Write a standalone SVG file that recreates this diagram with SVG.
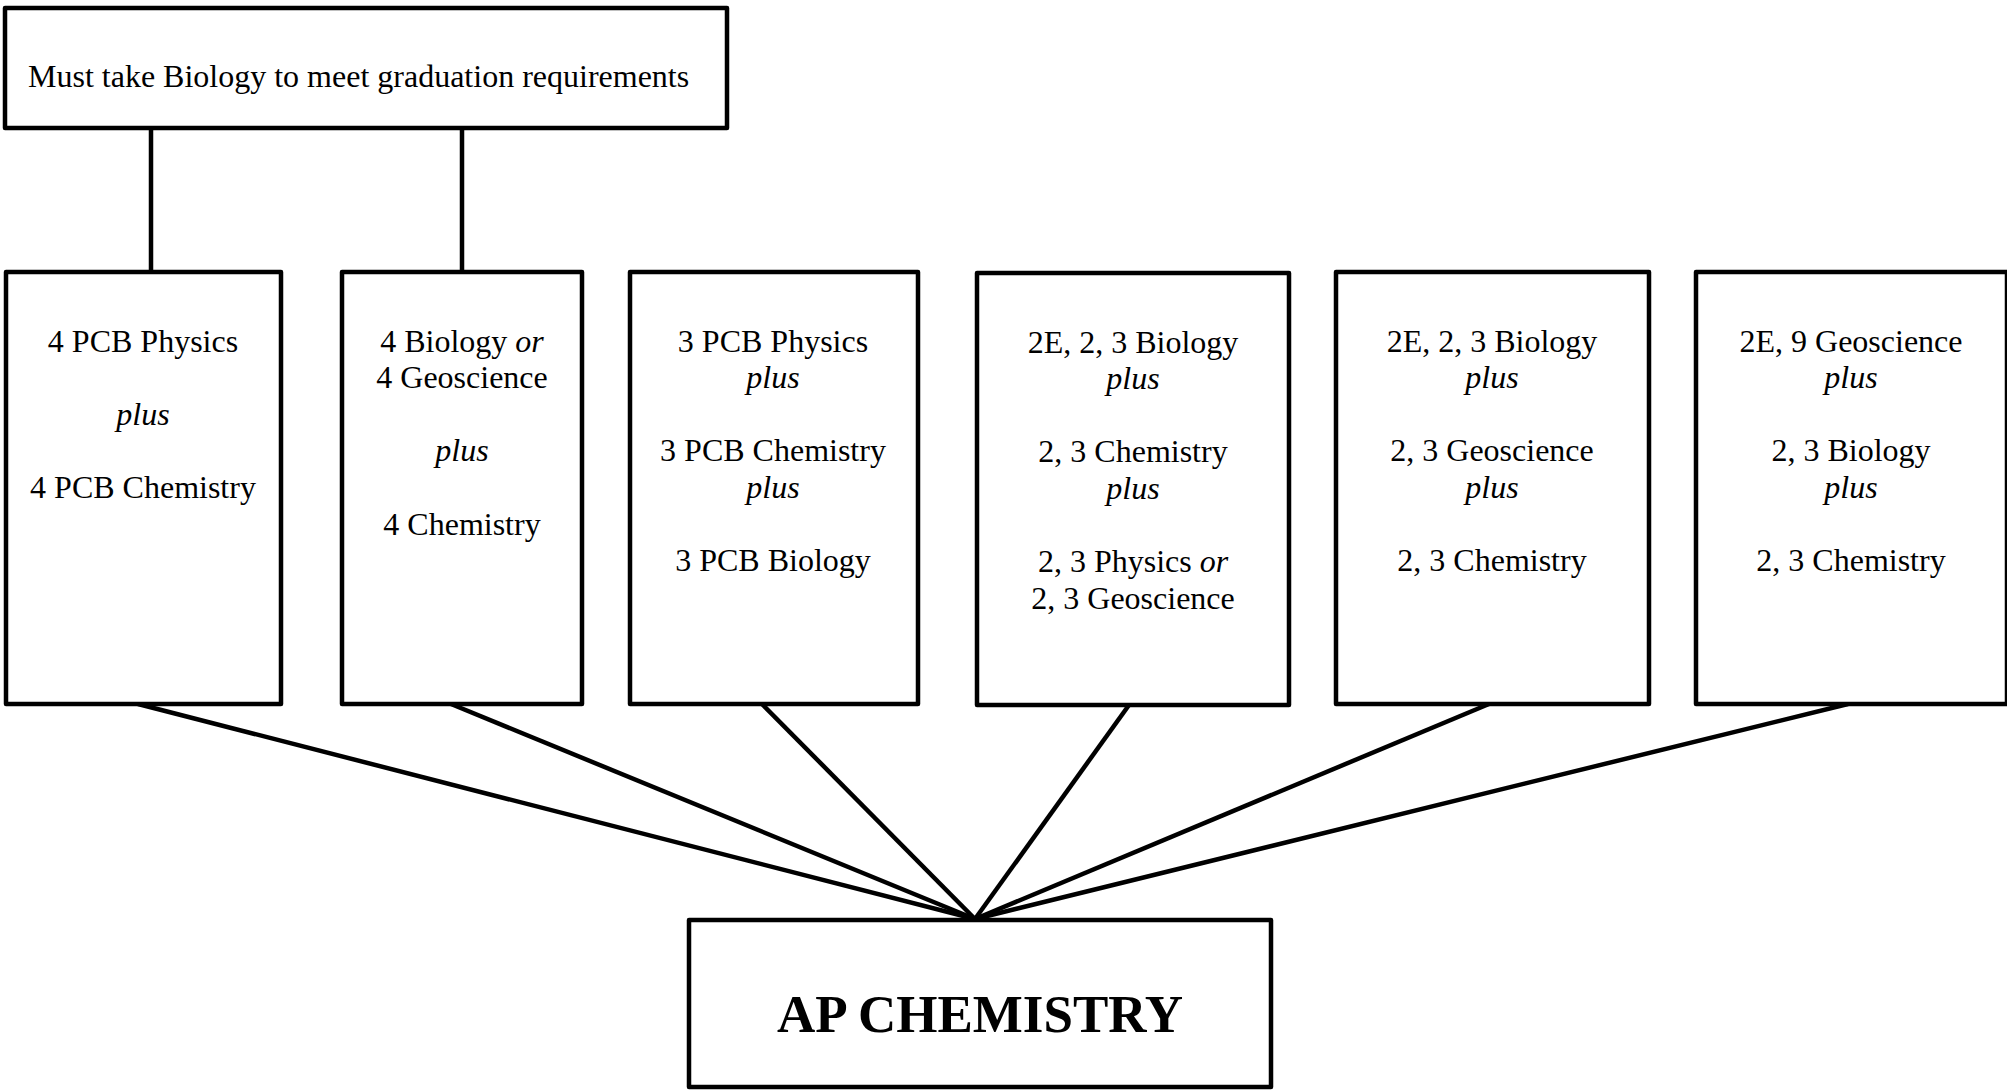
<svg xmlns="http://www.w3.org/2000/svg" width="2007" height="1090" viewBox="0 0 2007 1090">
<style>
.box{fill:#fff;stroke:#000;stroke-width:4.5;stroke-linejoin:round}
.t{font-family:"Liberation Serif","Times New Roman",serif;font-size:32px;fill:#000;text-anchor:middle}
.i{font-style:italic}
.ap{font-family:"Liberation Serif","Times New Roman",serif;font-size:53px;font-weight:bold;fill:#000;text-anchor:middle}
.c{stroke:#000;stroke-width:4.5;fill:none}
</style>
<rect width="2007" height="1090" fill="#fff"/>
<g id="connectors">
<line class="c" x1="151" y1="128" x2="151" y2="272"/>
<line class="c" x1="462" y1="128" x2="462" y2="272"/>
<line class="c" x1="138" y1="704" x2="975" y2="919"/>
<line class="c" x1="451" y1="704" x2="975" y2="919"/>
<line class="c" x1="762" y1="704" x2="975" y2="919"/>
<line class="c" x1="1129" y1="705" x2="975" y2="919"/>
<line class="c" x1="1489" y1="704" x2="975" y2="919"/>
<line class="c" x1="1848" y1="704" x2="975" y2="919"/>
</g>
<g id="grad">
<rect class="box" x="5" y="8" width="722" height="120"/>
<text class="t" x="28" y="87" style="text-anchor:start">Must take Biology to meet graduation requirements</text>
</g>
<g id="n1">
<rect class="box" x="6" y="272" width="275" height="432"/>
<text class="t" x="143" y="352">4 PCB Physics</text>
<text class="t i" x="143" y="425">plus</text>
<text class="t" x="143" y="498">4 PCB Chemistry</text>
</g>
<g id="n2">
<rect class="box" x="342" y="272" width="240" height="432"/>
<text class="t" x="462" y="352">4 Biology <tspan class="i">or</tspan></text>
<text class="t" x="462" y="388">4 Geoscience</text>
<text class="t i" x="462" y="461">plus</text>
<text class="t" x="462" y="535">4 Chemistry</text>
</g>
<g id="n3">
<rect class="box" x="630" y="272" width="288" height="432"/>
<text class="t" x="773" y="352">3 PCB Physics</text>
<text class="t i" x="773" y="388">plus</text>
<text class="t" x="773" y="461">3 PCB Chemistry</text>
<text class="t i" x="773" y="498">plus</text>
<text class="t" x="773" y="571">3 PCB Biology</text>
</g>
<g id="n4">
<rect class="box" x="977" y="273" width="312" height="432"/>
<text class="t" x="1133" y="353">2E, 2, 3 Biology</text>
<text class="t i" x="1133" y="389">plus</text>
<text class="t" x="1133" y="462">2, 3 Chemistry</text>
<text class="t i" x="1133" y="499">plus</text>
<text class="t" x="1133" y="572">2, 3 Physics <tspan class="i">or</tspan></text>
<text class="t" x="1133" y="609">2, 3 Geoscience</text>
</g>
<g id="n5">
<rect class="box" x="1336" y="272" width="313" height="432"/>
<text class="t" x="1492" y="352">2E, 2, 3 Biology</text>
<text class="t i" x="1492" y="388">plus</text>
<text class="t" x="1492" y="461">2, 3 Geoscience</text>
<text class="t i" x="1492" y="498">plus</text>
<text class="t" x="1492" y="571">2, 3 Chemistry</text>
</g>
<g id="n6">
<rect class="box" x="1696" y="272" width="311" height="432"/>
<text class="t" x="1851" y="352">2E, 9 Geoscience</text>
<text class="t i" x="1851" y="388">plus</text>
<text class="t" x="1851" y="461">2, 3 Biology</text>
<text class="t i" x="1851" y="498">plus</text>
<text class="t" x="1851" y="571">2, 3 Chemistry</text>
</g>
<g id="ap">
<rect class="box" x="689" y="920" width="582" height="167"/>
<text class="ap" x="980" y="1032">AP CHEMISTRY</text>
</g>
</svg>
